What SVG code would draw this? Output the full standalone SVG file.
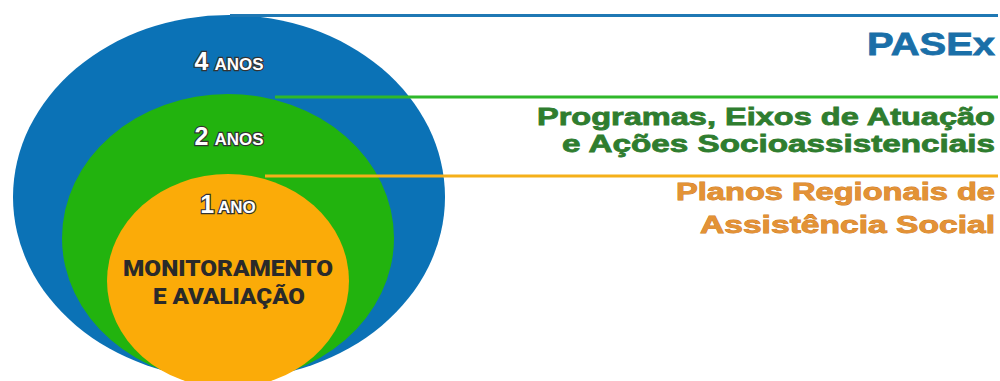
<svg xmlns="http://www.w3.org/2000/svg" width="1000" height="381" viewBox="0 0 1000 381">
<style>
.yr{font-family:"Liberation Sans",Arial,sans-serif;font-weight:bold;fill:#fff;stroke:#333;stroke-width:2.4;paint-order:stroke;text-anchor:middle}
.big{font-size:25px}
.sm{font-size:17px}
.mon{font-family:Roboto,"Liberation Sans",sans-serif;font-weight:900;font-size:22px;fill:#2a2a2a;text-anchor:middle}
.lbl{font-family:"Liberation Sans",Arial,sans-serif;font-weight:bold;text-anchor:end;stroke-width:0.8;paint-order:stroke}
</style>
<rect width="1000" height="381" fill="#fff"/>
<g id="pasex">
<ellipse cx="229" cy="197" rx="216" ry="182" fill="#0b72b6"/>
<text class="yr" x="229" y="70"><tspan class="big">4</tspan><tspan class="sm" dx="6">ANOS</tspan></text>
<text class="lbl" x="995" y="55" font-size="32" fill="#1a6fa8" stroke="#1a6fa8" textLength="128" lengthAdjust="spacingAndGlyphs">PASEx</text>
</g>
<g id="programas">
<ellipse cx="228" cy="238" rx="166" ry="144" fill="#22b30e"/>
<text class="yr" x="229" y="145"><tspan class="big">2</tspan><tspan class="sm" dx="6">ANOS</tspan></text>
<text class="lbl" x="995" y="125" font-size="24" fill="#2f7d2f" stroke="#2f7d2f" textLength="458" lengthAdjust="spacingAndGlyphs">Programas, Eixos de Atuação</text>
<text class="lbl" x="995" y="152" font-size="24" fill="#2f7d2f" stroke="#2f7d2f" textLength="433" lengthAdjust="spacingAndGlyphs">e Ações Socioassistenciais</text>
</g>
<g id="planos">
<ellipse cx="228" cy="281" rx="121" ry="107" fill="#fbab08"/>
<text class="yr" x="228" y="213"><tspan class="big">1</tspan><tspan class="sm" dx="4">ANO</tspan></text>
<text class="mon" x="228" y="276" textLength="210" lengthAdjust="spacingAndGlyphs">MONITORAMENTO</text>
<text class="mon" x="229" y="304" textLength="152" lengthAdjust="spacingAndGlyphs">E AVALIAÇÃO</text>
<text class="lbl" x="995" y="200" font-size="24" fill="#e39236" stroke="#d07c20" textLength="319" lengthAdjust="spacingAndGlyphs">Planos Regionais de</text>
<text class="lbl" x="995" y="233" font-size="24" fill="#e39236" stroke="#d07c20" textLength="295" lengthAdjust="spacingAndGlyphs">Assistência Social</text>
</g>
<g id="connectors" fill="none" stroke-width="3">
<line x1="230" y1="15.5" x2="998" y2="15.5" stroke="#1f78b4"/>
<line x1="275" y1="97" x2="998" y2="97" stroke="#2fb82a"/>
<line x1="265" y1="176" x2="998" y2="176" stroke="#f5b01a"/>
</g>
</svg>
